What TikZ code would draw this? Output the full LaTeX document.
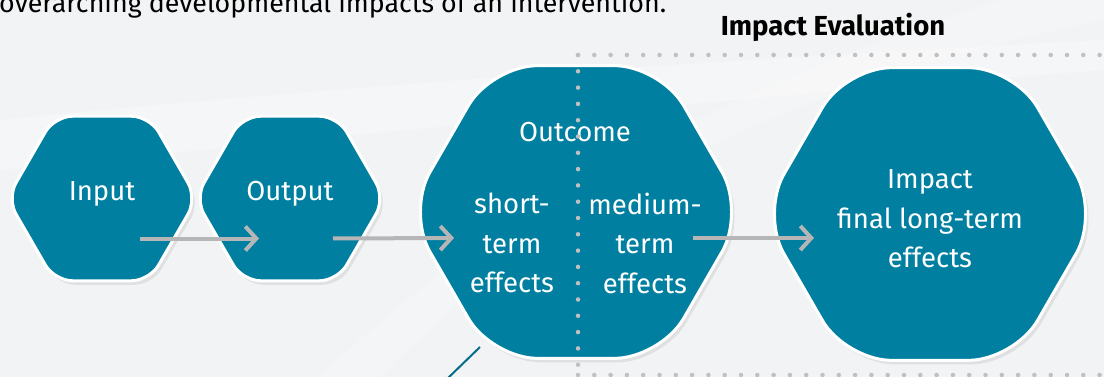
\documentclass[tikz,border=0pt]{standalone}
\usepackage{fontspec}
\setmainfont{Fira Sans}
\usetikzlibrary{shapes.geometric,arrows.meta,shadows,calc}
\definecolor{hexfill}{RGB}{0,127,160}
\definecolor{dotgray}{RGB}{192,192,192}
\definecolor{arrowgray}{RGB}{182,182,182}
\definecolor{linkteal}{RGB}{8,108,136}
\definecolor{bggray}{RGB}{242,243,244}
\begin{document}
\begin{tikzpicture}[x=1pt,y=-1pt,
  hexbox/.style={regular polygon, regular polygon sides=6, inner sep=0pt,
    fill=hexfill, draw=white, line width=3pt,
    drop shadow={opacity=0.16, shadow xshift=3pt, shadow yshift=-4pt}},
  smallhex/.style={hexbox, minimum size=190pt, rounded corners=18pt},
  bighex/.style={hexbox, minimum size=338pt, rounded corners=46pt},
  lbl/.style={text=white, font=\fontsize{27.5}{39.5}\selectfont, align=center, inner sep=0pt},
  flow/.style={draw=arrowgray, line width=4pt, -{Straight Barb[length=11pt,width=24pt]}},
  dotline/.style={draw=dotgray, line width=4.5pt, line cap=round, dash pattern=on 0pt off 16.3pt},
  link/.style={draw=linkteal, line width=2pt}]
\useasboundingbox (0,0) rectangle (1104,377);
\fill[bggray] (0,0) rectangle (1104,377);
\fill[white, opacity=0.3] (0,120) .. controls (300,90) and (700,60) .. (1104,40) -- (1104,70) .. controls (700,100) and (300,140) .. (0,170) -- cycle;
\fill[white, opacity=0.2] (380,377) .. controls (550,200) and (800,80) .. (1104,20) -- (1104,0) -- (1000,0) .. controls (750,80) and (500,200) .. (320,377) -- cycle;

\node[anchor=base west, inner sep=0pt, font=\fontsize{26.8}{30}\selectfont] (intro) at (-1,13) {overarching developmental impacts of an intervention.};
\node[inner sep=0pt, font=\fontsize{27.5}{30}\selectfont\bfseries] (title) at (833,27) {Impact Evaluation};

\node[smallhex] (in) at (102,198.5) {};
\node[smallhex] (out) at (290,198.5) {};
\node[bighex] (oc) at (576,212) {};
\node[bighex] (imp) at (930,214) {};

\node[lbl] (tin) at (102,194) {Input};
\node[lbl] (tout) at (290,194) {Output};
\node[lbl] (toc) at (575,132) {Outcome};
\node[lbl] (tshort) at (512,243) {short-\\term\\effects};
\node[lbl] (tmed) at (645,243) {medium-\\term\\effects};
\node[lbl] (timp) at (930,219) {Impact\\final long-term\\effects};

\coordinate (a1s) at ($(in.center)+(38,40)$);
\coordinate (a1e) at ($(out.center)+(-31,40)$);
\coordinate (a2s) at ($(out.center)+(43,40)$);
\coordinate (a2e) at ($(oc.center)+(-122,26)$);
\coordinate (a3s) at ($(oc.center)+(117,26)$);
\coordinate (a3e) at ($(imp.center)+(-116,24)$);
\draw[flow] (a1s) -- (a1e);
\draw[flow] (a2s) -- (a2e);
\draw[flow] (a3s) -- (a3e);

\coordinate (d0) at (578,55);
\coordinate (d1) at (1110,55);
\coordinate (d2) at (578,380);
\coordinate (d3) at (578,375);
\coordinate (d4) at (1110,375);
\draw[dotline] (d0) -- (d1);
\draw[dotline] (d0) -- (d2);
\draw[dotline] (d3) -- (d4);

\coordinate (lk1) at ($(oc.center)+(-96,135)$);
\coordinate (lk2) at (446,380);
\draw[link] (lk1) -- (lk2);
\end{tikzpicture}
\end{document}
